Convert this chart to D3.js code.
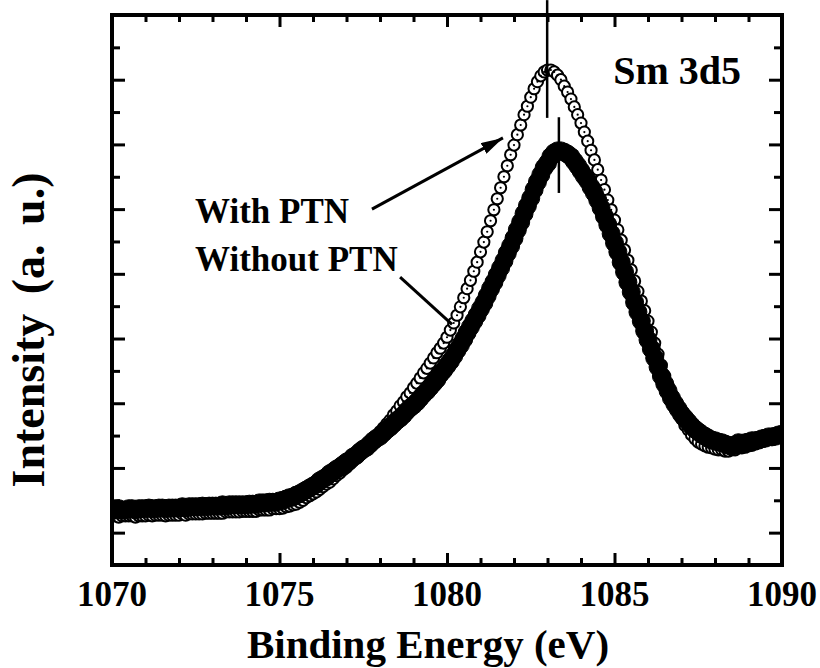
<!DOCTYPE html>
<html>
<head>
<meta charset="utf-8">
<script src="https://cdn.jsdelivr.net/npm/d3@7/dist/d3.min.js"></script>
<style>
  body { margin: 0; background: #fff; }
  svg { display: block; }
  text { font-family: "Liberation Serif", "Times New Roman", serif; font-weight: bold; fill: #000; }
</style>
</head>
<body>
<svg id="chart" width="820" height="668"></svg>
<script>
// Sm 3d5 core-level XPS spectra, binding energy scan at 0.1 eV steps
const energy = [
  1070.0,1070.1,1070.2,1070.3,1070.4,1070.5,1070.6,1070.7,1070.8,1070.9,
  1071.0,1071.1,1071.2,1071.3,1071.4,1071.5,1071.6,1071.7,1071.8,1071.9,
  1072.0,1072.1,1072.2,1072.3,1072.4,1072.5,1072.6,1072.7,1072.8,1072.9,
  1073.0,1073.1,1073.2,1073.3,1073.4,1073.5,1073.6,1073.7,1073.8,1073.9,
  1074.0,1074.1,1074.2,1074.3,1074.4,1074.5,1074.6,1074.7,1074.8,1074.9,
  1075.0,1075.1,1075.2,1075.3,1075.4,1075.5,1075.6,1075.7,1075.8,1075.9,
  1076.0,1076.1,1076.2,1076.3,1076.4,1076.5,1076.6,1076.7,1076.8,1076.9,
  1077.0,1077.1,1077.2,1077.3,1077.4,1077.5,1077.6,1077.7,1077.8,1077.9,
  1078.0,1078.1,1078.2,1078.3,1078.4,1078.5,1078.6,1078.7,1078.8,1078.9,
  1079.0,1079.1,1079.2,1079.3,1079.4,1079.5,1079.6,1079.7,1079.8,1079.9,
  1080.0,1080.1,1080.2,1080.3,1080.4,1080.5,1080.6,1080.7,1080.8,1080.9,
  1081.0,1081.1,1081.2,1081.3,1081.4,1081.5,1081.6,1081.7,1081.8,1081.9,
  1082.0,1082.1,1082.2,1082.3,1082.4,1082.5,1082.6,1082.7,1082.8,1082.9,
  1083.0,1083.1,1083.2,1083.3,1083.4,1083.5,1083.6,1083.7,1083.8,1083.9,
  1084.0,1084.1,1084.2,1084.3,1084.4,1084.5,1084.6,1084.7,1084.8,1084.9,
  1085.0,1085.1,1085.2,1085.3,1085.4,1085.5,1085.6,1085.7,1085.8,1085.9,
  1086.0,1086.1,1086.2,1086.3,1086.4,1086.5,1086.6,1086.7,1086.8,1086.9,
  1087.0,1087.1,1087.2,1087.3,1087.4,1087.5,1087.6,1087.7,1087.8,1087.9,
  1088.0,1088.1,1088.2,1088.3,1088.4,1088.5,1088.6,1088.7,1088.8,1088.9,
  1089.0,1089.1,1089.2,1089.3,1089.4,1089.5,1089.6,1089.7,1089.8,1089.9,
  1090.0
];

// Intensity (a. u.) with PTN
const withPTN = [
  1.26,1.26,1.24,1.26,1.26,1.26,1.26,1.24,1.26,1.26,
  1.26,1.27,1.26,1.27,1.27,1.27,1.26,1.27,1.27,1.27,
  1.27,1.29,1.27,1.29,1.29,1.29,1.29,1.29,1.30,1.30,
  1.30,1.30,1.30,1.30,1.32,1.32,1.32,1.32,1.32,1.33,
  1.33,1.33,1.33,1.33,1.35,1.35,1.35,1.35,1.37,1.37,
  1.37,1.38,1.40,1.41,1.43,1.44,1.47,1.50,1.54,1.57,
  1.60,1.63,1.67,1.71,1.75,1.78,1.83,1.88,1.92,1.97,
  2.01,2.06,2.11,2.15,2.20,2.25,2.31,2.35,2.42,2.48,
  2.56,2.62,2.68,2.74,2.82,2.88,2.96,3.02,3.10,3.16,
  3.24,3.31,3.39,3.47,3.54,3.62,3.70,3.78,3.85,3.93,
  4.02,4.13,4.24,4.36,4.49,4.63,4.77,4.90,5.04,5.18,
  5.34,5.49,5.65,5.82,5.99,6.16,6.33,6.50,6.67,6.84,
  6.99,7.15,7.30,7.46,7.59,7.73,7.86,7.97,8.06,8.12,
  8.15,8.15,8.12,8.07,8.00,7.90,7.81,7.70,7.58,7.46,
  7.33,7.19,7.05,6.91,6.76,6.61,6.45,6.30,6.14,5.99,
  5.83,5.68,5.52,5.37,5.21,5.06,4.89,4.73,4.58,4.43,
  4.27,4.10,3.93,3.76,3.59,3.42,3.27,3.13,2.99,2.86,
  2.76,2.66,2.59,2.51,2.45,2.40,2.37,2.34,2.32,2.31,
  2.29,2.28,2.28,2.26,2.26,2.28,2.28,2.31,2.31,2.32,
  2.34,2.35,2.37,2.40,2.42,2.43,2.45,2.46,2.48,2.49,
  2.51
];

// Intensity (a. u.) without PTN
const withoutPTN = [
  1.35,1.35,1.37,1.35,1.35,1.37,1.37,1.35,1.37,1.37,
  1.37,1.38,1.37,1.37,1.38,1.38,1.37,1.38,1.38,1.38,
  1.38,1.40,1.38,1.40,1.40,1.40,1.40,1.41,1.40,1.41,
  1.41,1.41,1.41,1.43,1.41,1.43,1.43,1.43,1.43,1.43,
  1.43,1.44,1.44,1.44,1.46,1.46,1.46,1.47,1.47,1.47,
  1.49,1.50,1.52,1.54,1.55,1.58,1.60,1.63,1.66,1.69,
  1.72,1.75,1.80,1.83,1.86,1.91,1.94,1.98,2.01,2.05,
  2.09,2.12,2.17,2.20,2.25,2.29,2.32,2.37,2.42,2.46,
  2.49,2.54,2.59,2.63,2.68,2.73,2.77,2.82,2.88,2.93,
  2.97,3.02,3.08,3.14,3.19,3.25,3.31,3.37,3.45,3.51,
  3.58,3.65,3.73,3.82,3.90,3.99,4.09,4.18,4.27,4.36,
  4.46,4.55,4.66,4.77,4.87,4.98,5.09,5.20,5.32,5.43,
  5.55,5.68,5.80,5.93,6.05,6.17,6.30,6.42,6.53,6.64,
  6.71,6.81,6.87,6.90,6.90,6.88,6.85,6.81,6.74,6.67,
  6.59,6.51,6.44,6.34,6.25,6.14,6.02,5.89,5.76,5.62,
  5.48,5.34,5.18,5.03,4.87,4.72,4.56,4.41,4.27,4.12,
  3.98,3.84,3.70,3.56,3.42,3.30,3.19,3.08,2.99,2.91,
  2.83,2.77,2.71,2.65,2.60,2.56,2.52,2.49,2.46,2.43,
  2.42,2.40,2.39,2.37,2.35,2.34,2.35,2.39,2.37,2.39,
  2.40,2.42,2.42,2.43,2.45,2.46,2.48,2.48,2.49,2.51,
  2.52
];

const xMajorTicks = [1070, 1075, 1080, 1085, 1090];
const xMinorTicks = [1071, 1072, 1073, 1074, 1076, 1077, 1078, 1079,
                     1081, 1082, 1083, 1084, 1086, 1087, 1088, 1089];
const yMajorTicks = [1, 2, 3, 4, 5, 6, 7, 8];
const yMinorTicks = [1.5, 2.5, 3.5, 4.5, 5.5, 6.5, 7.5, 8.5];

const xTitle = "Binding Energy (eV)";
const yTitle = "Intensity (a. u.)";
const regionLabel = "Sm 3d5";
const seriesLabels = ["With PTN", "Without PTN"];

// peak positions marked with vertical bars: [energy, y from, y to]
const peakMarks = [[1082.99, 7.41, 9.23], [1083.34, 7.42, 6.25]];
// label pointers: [x0, y0, x1, y1] in data units
const pointerWith = [1077.76, 6.00, 1081.67, 7.10];
const pointerWithout = [1078.60, 4.95, 1080.15, 4.22];
// label anchors (left/baseline) in data units
const labelAnchors = [[1072.48, 5.79], [1072.48, 5.04]];
const regionAnchor = [1084.96, 7.93];

const W = 820, H = 668;
const margin = { top: 15, right: 38, bottom: 103, left: 112 };
const pw = W - margin.left - margin.right;
const ph = H - margin.top - margin.bottom;

const svg = d3.select("#chart");
const g = svg.append("g").attr("transform", `translate(${margin.left},${margin.top})`);

const x = d3.scaleLinear().domain([1070, 1090]).range([0, pw]);
const y = d3.scaleLinear().domain([0.5, 9.0]).range([ph, 0]);

g.append("clipPath").attr("id", "plotclip")
  .append("rect").attr("width", pw).attr("height", ph);

const rowsWith = energy.map((e, i) => ({ e, v: withPTN[i] }));
const rowsWithout = energy.map((e, i) => ({ e, v: withoutPTN[i] }));

const plot = g.append("g").attr("clip-path", "url(#plotclip)");

// open circles (with PTN)
const openG = plot.append("g");
openG.selectAll("circle.o").data(rowsWith).join("circle")
  .attr("class", "o")
  .attr("cx", d => x(d.e)).attr("cy", d => y(d.v)).attr("r", 5.6)
  .attr("fill", "#fff").attr("stroke", "#000").attr("stroke-width", 2);
openG.selectAll("circle.dot").data(rowsWith).join("circle")
  .attr("class", "dot")
  .attr("cx", d => x(d.e)).attr("cy", d => y(d.v)).attr("r", 1.1)
  .attr("fill", "#000");

// filled circles (without PTN)
plot.append("g").selectAll("circle").data(rowsWithout).join("circle")
  .attr("cx", d => x(d.e)).attr("cy", d => y(d.v)).attr("r", 9)
  .attr("fill", "#000").attr("stroke", "#000").attr("stroke-width", 1);

// ticks on all four sides, pointing inward
function tickAxis(axisFn, values, len) {
  return axisFn.tickValues(values).tickSizeInner(-len).tickSizeOuter(0).tickFormat("");
}
const axes = [
  [d3.axisBottom(x), `translate(0,${ph})`, xMajorTicks, 12],
  [d3.axisBottom(x), `translate(0,${ph})`, xMinorTicks, 7],
  [d3.axisTop(x), `translate(0,0)`, xMajorTicks, 12],
  [d3.axisTop(x), `translate(0,0)`, xMinorTicks, 7],
  [d3.axisLeft(y), `translate(0,0)`, yMajorTicks, 13],
  [d3.axisLeft(y), `translate(0,0)`, yMinorTicks, 8],
  [d3.axisRight(y), `translate(${pw},0)`, yMajorTicks, 13],
  [d3.axisRight(y), `translate(${pw},0)`, yMinorTicks, 8]
];
axes.forEach(([fn, tr, vals, len]) => {
  const a = g.append("g").attr("transform", tr).call(tickAxis(fn, vals, len));
  a.select(".domain").remove();
  a.selectAll("line").attr("stroke", "#000").attr("stroke-width", 3);
});

// frame
g.append("rect").attr("width", pw).attr("height", ph)
  .attr("fill", "none").attr("stroke", "#000").attr("stroke-width", 4);

// x tick labels
g.selectAll("text.xlab").data(xMajorTicks).join("text")
  .attr("class", "xlab")
  .attr("x", d => x(d)).attr("y", ph + 41)
  .attr("text-anchor", "middle").attr("font-size", 35)
  .text(d => d);

// axis titles
svg.append("text")
  .attr("x", 428).attr("y", 658)
  .attr("text-anchor", "middle").attr("font-size", 41)
  .text(xTitle);
svg.append("text")
  .attr("transform", "translate(44,330) rotate(-90)")
  .attr("text-anchor", "middle").attr("font-size", 46)
  .attr("word-spacing", 8)
  .text(yTitle);

// peak markers
const markG = svg.append("g").attr("transform", `translate(${margin.left},${margin.top})`);
peakMarks.forEach(([e, y0, y1]) => {
  markG.append("line")
    .attr("x1", x(e)).attr("x2", x(e)).attr("y1", y(y0)).attr("y2", y(y1))
    .attr("stroke", "#000").attr("stroke-width", 2.5);
});

// pointer arrow for "With PTN"
svg.append("defs").append("marker")
  .attr("id", "arrowhead").attr("viewBox", "0 0 22 12")
  .attr("refX", 22).attr("refY", 6)
  .attr("markerWidth", 22).attr("markerHeight", 12)
  .attr("markerUnits", "userSpaceOnUse").attr("orient", "auto")
  .append("path").attr("d", "M0,0 L22,6 L0,12 Z").attr("fill", "#000");

markG.append("line")
  .attr("x1", x(pointerWith[0])).attr("y1", y(pointerWith[1]))
  .attr("x2", x(pointerWith[2])).attr("y2", y(pointerWith[3]))
  .attr("stroke", "#000").attr("stroke-width", 3)
  .attr("marker-end", "url(#arrowhead)");
markG.append("line")
  .attr("x1", x(pointerWithout[0])).attr("y1", y(pointerWithout[1]))
  .attr("x2", x(pointerWithout[2])).attr("y2", y(pointerWithout[3]))
  .attr("stroke", "#000").attr("stroke-width", 3);

// series labels and region label
markG.selectAll("text.slab").data(seriesLabels).join("text")
  .attr("class", "slab")
  .attr("x", (d, i) => x(labelAnchors[i][0])).attr("y", (d, i) => y(labelAnchors[i][1]))
  .attr("font-size", 35)
  .text(d => d);
markG.append("text")
  .attr("x", x(regionAnchor[0])).attr("y", y(regionAnchor[1]))
  .attr("font-size", 40)
  .text(regionLabel);
</script>
</body>
</html>
